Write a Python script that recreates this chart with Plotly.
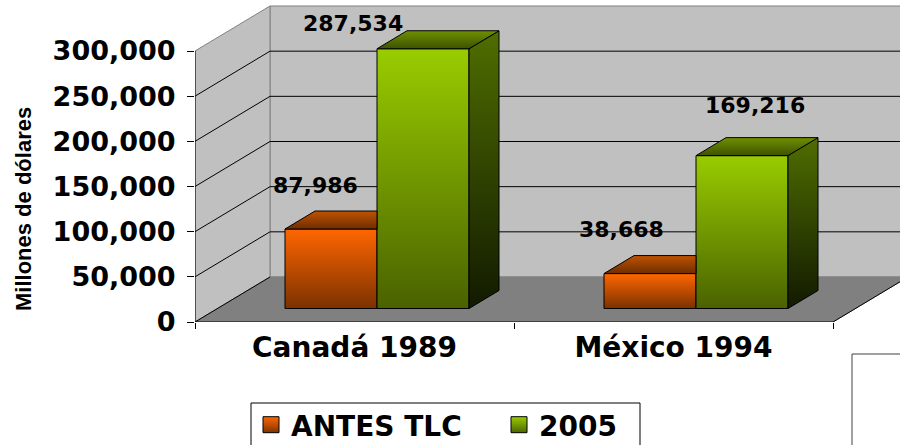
import plotly.graph_objects as go

# ---------------- data ----------------
categories = ["Canadá 1989", "México 1994"]
series_names = ["ANTES TLC", "2005"]
antes_tlc = [87986, 38668]
anio_2005 = [287534, 169216]
y_tick_values = [0, 50000, 100000, 150000, 200000, 250000, 300000]
y_title = "Millones de dólares"

# ---------------- geometry / style ----------------
W, H = 900, 445
PLOT_L, PLOT_T, PLOT_W, PLOT_H = 195, 0, 705, 322
PX_PER_CAT = 319.0
PX_PER_VAL = 271.0 / 300000.0
DEPTH_DX = 75.0 / PX_PER_CAT          # full floor depth, in category units
DEPTH_DY = 45.0 / PX_PER_VAL          # full floor depth, in value units
F0, F1 = 0.30, 0.70                   # bar front / back depth fractions
BAR_W = 92.0 / PX_PER_CAT
X_MIN = -0.5
X_MAX = X_MIN + PLOT_W / PX_PER_CAT
Y_MAX = PLOT_H / PX_PER_VAL
Y_TOP = y_tick_values[-1]
N = len(categories)

FONT = "DejaVu Sans"
front_top = ["#FF6600", "#99CC00"]
side_cols = [("#8A3A00", "#3A1700"), ("#4F6E00", "#121A00")]  # (top, bottom)
top_cols = [("#6E2E00", "#C05200"), ("#3E5200", "#6F9000")]   # (front, back)
legend_grad = ["#7F3300", "#4D6600"]
WALL = "#C0C0C0"
FLOOR = "#808080"
EDGE = "#808080"

# label offsets in px relative to the front-top centre of each bar
label_dx_px = [[-16, -29], [-70, 13]]
label_up_px = [[44, 44], [25, 50]]

# legend placement (px in the figure)
LEG_BOX = (251, 403, 640)          # left, top, right of the legend frame
LEG_ITEM_X = [251, 499]            # left of each legend entry
LEG_ITEM_TOP = 400

series_values = [antes_tlc, anio_2005]
n_series = len(series_values)

sx = F0 * DEPTH_DX
base = F0 * DEPTH_DY
ddx = (F1 - F0) * DEPTH_DX
ddy = (F1 - F0) * DEPTH_DY

fig = go.Figure()

# ---------------- walls & floor (shapes below traces) ----------------
shapes = []
xl, xr = X_MIN, N - 0.5
shapes.append(dict(type="rect", xref="x", yref="y", layer="below",
                   x0=xl + DEPTH_DX, x1=xr + DEPTH_DX, y0=DEPTH_DY, y1=Y_TOP + DEPTH_DY,
                   fillcolor=WALL, line=dict(color=EDGE, width=1)))
shapes.append(dict(type="path", xref="x", yref="y", layer="below",
                   path=f"M {xl},0 L {xl},{Y_TOP} L {xl + DEPTH_DX},{Y_TOP + DEPTH_DY} L {xl + DEPTH_DX},{DEPTH_DY} Z",
                   fillcolor=WALL, line=dict(color=EDGE, width=1)))
shapes.append(dict(type="path", xref="x", yref="y", layer="below",
                   path=f"M {xl},0 L {xr},0 L {xr + DEPTH_DX},{DEPTH_DY} L {xl + DEPTH_DX},{DEPTH_DY} Z",
                   fillcolor=FLOOR, line=dict(color=EDGE, width=1)))
for v in y_tick_values[1:-1]:
    shapes.append(dict(type="line", xref="x", yref="y", layer="below",
                       x0=xl + DEPTH_DX, x1=xr + DEPTH_DX, y0=v + DEPTH_DY, y1=v + DEPTH_DY,
                       line=dict(color="black", width=1)))
    shapes.append(dict(type="line", xref="x", yref="y", layer="below",
                       x0=xl, x1=xl + DEPTH_DX, y0=v, y1=v + DEPTH_DY,
                       line=dict(color="black", width=1)))
for (x0, y0, x1, y1) in [(xl, 0, xl, Y_TOP), (xl, 0, xr, 0),
                         (xr, 0, xr + DEPTH_DX, DEPTH_DY), (xl, 0, xl + DEPTH_DX, DEPTH_DY)]:
    shapes.append(dict(type="line", xref="x", yref="y", layer="below",
                       x0=x0, x1=x1, y0=y0, y1=y1, line=dict(color="black", width=1)))


def px_to_paper_x(px):
    return (px - PLOT_L) / PLOT_W


def px_to_paper_y(py):
    return (PLOT_T + PLOT_H - py) / PLOT_H


# legend frame
shapes.append(dict(type="rect", xref="paper", yref="paper", layer="above",
                   x0=px_to_paper_x(LEG_BOX[0]), x1=px_to_paper_x(LEG_BOX[2]),
                   y0=px_to_paper_y(LEG_BOX[1]), y1=px_to_paper_y(H + 20),
                   fillcolor="rgba(0,0,0,0)", line=dict(color="black", width=1)))
# stray empty box at lower right of the original
shapes.append(dict(type="rect", xref="paper", yref="paper", layer="above",
                   x0=px_to_paper_x(852), x1=px_to_paper_x(W + 30),
                   y0=px_to_paper_y(354), y1=px_to_paper_y(H + 20),
                   fillcolor="rgba(0,0,0,0)", line=dict(color="#404040", width=1)))

# ---------------- bars (front faces) ----------------
for s in range(n_series):
    xs = [i + sx + (s - (n_series - 1) / 2) * BAR_W for i in range(N)]
    fig.add_trace(go.Bar(
        x=xs, y=series_values[s], base=[base] * N, width=BAR_W,
        name=series_names[s], showlegend=False,
        marker=dict(color=front_top[s], line=dict(color="black", width=1)),
        hoverinfo="skip"))

# ---------------- shading & 3D faces ----------------
annotations = []
for i in range(N):
    for s in range(n_series):
        v = series_values[s][i]
        cx = i + sx + (s - (n_series - 1) / 2) * BAR_W
        L, R = cx - BAR_W / 2, cx + BAR_W / 2
        top = base + v
        # vertical darkening on the front face
        fig.add_trace(go.Scatter(
            x=[L, R, R, L, L], y=[base, base, top, top, base], mode="lines",
            fill="toself", line=dict(width=0, color="rgba(0,0,0,0)"),
            fillgradient=dict(type="vertical", start=base, stop=top,
                              colorscale=[[0, "rgba(0,0,0,0.52)"], [1, "rgba(0,0,0,0)"]]),
            showlegend=False, hoverinfo="skip"))
        nxt = series_values[s + 1][i] if s + 1 < n_series else None
        hidden_by_next = nxt is not None and nxt >= v
        # right side face
        if not hidden_by_next:
            fig.add_trace(go.Scatter(
                x=[R, R + ddx, R + ddx, R, R],
                y=[base, base + ddy, top + ddy, top, base], mode="lines",
                fill="toself", line=dict(width=1, color="black"),
                fillgradient=dict(type="vertical", start=base, stop=top + ddy,
                                  colorscale=[[0, side_cols[s][1]], [1, side_cols[s][0]]]),
                showlegend=False, hoverinfo="skip"))
        # top face
        if hidden_by_next:
            tx = [L, R, R, L + ddx, L]
        else:
            tx = [L, R, R + ddx, L + ddx, L]
        ty = [top, top, top + ddy, top + ddy, top]
        fig.add_trace(go.Scatter(
            x=tx, y=ty, mode="lines", fill="toself", line=dict(width=1, color="black"),
            fillgradient=dict(type="vertical", start=top, stop=top + ddy,
                              colorscale=[[0, top_cols[s][0]], [1, top_cols[s][1]]]),
            showlegend=False, hoverinfo="skip"))
        annotations.append(dict(
            x=cx, y=top, xref="x", yref="y", text=f"{v:,}", showarrow=False,
            xanchor="center", yanchor="middle",
            xshift=label_dx_px[s][i], yshift=label_up_px[s][i],
            font=dict(family=FONT, size=22, color="black", weight="bold")))

# y-axis title (centred on the front axis span, as in the original)
annotations.append(dict(
    x=px_to_paper_x(23), y=px_to_paper_y(209), xref="paper", yref="paper",
    text=y_title, textangle=-90, showarrow=False, xanchor="center", yanchor="middle",
    font=dict(family="Liberation Sans", size=22, color="black", weight="bold")))

# legend entries (one legend per entry so the spacing matches the original)
legend_ids = ["legend", "legend2"]
for s in range(n_series):
    fig.add_trace(go.Scatter(
        x=[None], y=[None], mode="markers", name=series_names[s], legend=legend_ids[s],
        marker=dict(symbol="square", size=20, color=front_top[s],
                    gradient=dict(type="vertical", color=legend_grad[s]),
                    line=dict(color="black", width=1))))

leg_common = dict(orientation="h", xref="container", yref="container",
                  xanchor="left", y=1 - LEG_ITEM_TOP / H, yanchor="top",
                  borderwidth=0, bgcolor="rgba(0,0,0,0)",
                  font=dict(family=FONT, size=28, color="black", weight="bold"))

fig.update_layout(
    width=W, height=H,
    margin=dict(l=PLOT_L, r=W - PLOT_L - PLOT_W, t=PLOT_T, b=H - PLOT_T - PLOT_H, pad=0,
                autoexpand=False),
    paper_bgcolor="white", plot_bgcolor="white",
    barmode="overlay", showlegend=True,
    shapes=shapes, annotations=annotations,
    legend=dict(x=LEG_ITEM_X[0] / W, **leg_common),
    legend2=dict(x=LEG_ITEM_X[1] / W, **leg_common),
    xaxis=dict(range=[X_MIN, X_MAX], showgrid=False, zeroline=False, showline=False,
               automargin=False,
               tickmode="array", tickvals=list(range(N)), ticktext=categories,
               ticks="", ticklabelstandoff=6,
               tickfont=dict(family=FONT, size=28, color="black", weight="bold"),
               minor=dict(tickmode="array", tickvals=[X_MIN + k for k in range(N + 1)],
                          ticks="outside", ticklen=6, tickcolor="black", showgrid=False),
               fixedrange=True),
    yaxis=dict(range=[0, Y_MAX], showgrid=False, zeroline=False, showline=False,
               automargin=False,
               tickmode="array", tickvals=y_tick_values,
               ticktext=[f"{v:,}" for v in y_tick_values],
               ticks="outside", ticklen=7, tickcolor="black", ticklabelstandoff=6,
               tickfont=dict(family=FONT, size=27, color="black", weight="bold"),
               fixedrange=True),
)

fig.write_html("out.html", config={"displayModeBar": False},
               post_script="document.body.style.margin='0';")
